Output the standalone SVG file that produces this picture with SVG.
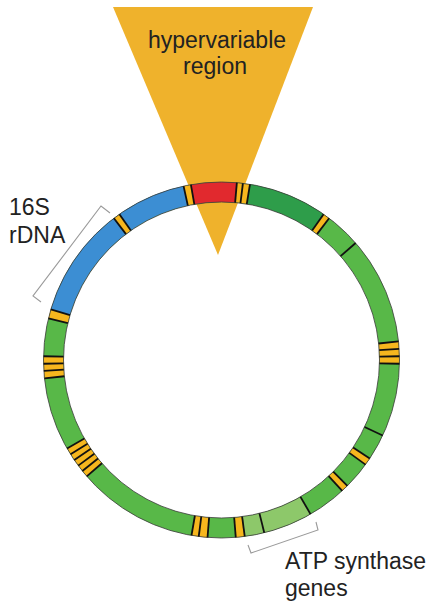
<svg xmlns="http://www.w3.org/2000/svg" width="430" height="601" viewBox="0 0 430 601">
<style>
text{font-family:"Liberation Sans",Arial,sans-serif;font-size:23px;fill:#222}
.seg{fill:none;stroke-width:20}
.tick{stroke:#111;stroke-width:1.8}
.edge{fill:none;stroke:#3a3a3a;stroke-width:0.8}
.br{fill:none;stroke:#9a9a9a;stroke-width:1.1}
</style>
<defs>
<line id="t" class="tick" x1="221.5" y1="202" x2="221.5" y2="182"/>
</defs>
<rect width="430" height="601" fill="#fff"/>
<g id="hypervariable">
<polygon points="113,7 313,7 218,255" fill="#EFB22C"/>
<text x="217" y="48" text-anchor="middle">hypervariable</text>
<text x="215" y="74" text-anchor="middle">region</text>
</g>
<g id="genome" transform="rotate(-90 221.5 360)">
<circle class="seg" cx="221.5" cy="360" r="168" stroke="#58B848"/>
<circle class="seg" cx="221.5" cy="360" r="168" pathLength="360" stroke="#3C8ED3" stroke-dasharray="61.2 298.8" stroke-dashoffset="-286.5"/>
<circle class="seg" cx="221.5" cy="360" r="168" pathLength="360" stroke="#E1292E" stroke-dasharray="14.85 345.15" stroke-dashoffset="-350.1"/>
<circle class="seg" cx="221.5" cy="360" r="168" pathLength="360" stroke="#2E9D4A" stroke-dasharray="25.8 334.2" stroke-dashoffset="-9.2"/>
<circle class="seg" cx="221.5" cy="360" r="168" pathLength="360" stroke="#8DC86A" stroke-dasharray="22.5 337.5" stroke-dashoffset="-150"/>
<g stroke="#F6B61E">
<circle class="seg" cx="221.5" cy="360" r="168" pathLength="360" stroke-dasharray="2.4 357.6" stroke-dashoffset="-347.7"/>
<circle class="seg" cx="221.5" cy="360" r="168" pathLength="360" stroke-dasharray="4.25 355.75" stroke-dashoffset="-4.95"/>
<circle class="seg" cx="221.5" cy="360" r="168" pathLength="360" stroke-dasharray="2.2 357.8" stroke-dashoffset="-35"/>
<circle class="seg" cx="221.5" cy="360" r="168" pathLength="360" stroke-dasharray="7.2 352.8" stroke-dashoffset="-84"/>
<circle class="seg" cx="221.5" cy="360" r="168" pathLength="360" stroke-dasharray="2.4 357.6" stroke-dashoffset="-123.6"/>
<circle class="seg" cx="221.5" cy="360" r="168" pathLength="360" stroke-dasharray="2.3 357.7" stroke-dashoffset="-135"/>
<circle class="seg" cx="221.5" cy="360" r="168" pathLength="360" stroke-dasharray="2.9 357.1" stroke-dashoffset="-172.5"/>
<circle class="seg" cx="221.5" cy="360" r="168" pathLength="360" stroke-dasharray="5.2 354.8" stroke-dashoffset="-184.5"/>
<circle class="seg" cx="221.5" cy="360" r="168" pathLength="360" stroke-dasharray="11 349" stroke-dashoffset="-229.2"/>
<circle class="seg" cx="221.5" cy="360" r="168" pathLength="360" stroke-dasharray="7.1 352.9" stroke-dashoffset="-264.1"/>
<circle class="seg" cx="221.5" cy="360" r="168" pathLength="360" stroke-dasharray="3 357" stroke-dashoffset="-283.5"/>
<circle class="seg" cx="221.5" cy="360" r="168" pathLength="360" stroke-dasharray="2.2 357.8" stroke-dashoffset="-322.8"/>
</g>
<circle class="edge" cx="221.5" cy="360" r="178"/>
<circle class="edge" cx="221.5" cy="360" r="158"/>
</g>
<g id="ticks">
<use href="#t" transform="rotate(347.7 221.5 360)"/>
<use href="#t" transform="rotate(350.1 221.5 360)"/>
<use href="#t" transform="rotate(4.95 221.5 360)"/>
<use href="#t" transform="rotate(6.9 221.5 360)"/>
<use href="#t" transform="rotate(9.2 221.5 360)"/>
<use href="#t" transform="rotate(35 221.5 360)"/>
<use href="#t" transform="rotate(37.2 221.5 360)"/>
<use href="#t" transform="rotate(48.9 221.5 360)"/>
<use href="#t" transform="rotate(84 221.5 360)"/>
<use href="#t" transform="rotate(86.4 221.5 360)"/>
<use href="#t" transform="rotate(88.8 221.5 360)"/>
<use href="#t" transform="rotate(91.2 221.5 360)"/>
<use href="#t" transform="rotate(115.1 221.5 360)"/>
<use href="#t" transform="rotate(123.6 221.5 360)"/>
<use href="#t" transform="rotate(126 221.5 360)"/>
<use href="#t" transform="rotate(135 221.5 360)"/>
<use href="#t" transform="rotate(137.3 221.5 360)"/>
<use href="#t" transform="rotate(150 221.5 360)"/>
<use href="#t" transform="rotate(166.1 221.5 360)"/>
<use href="#t" transform="rotate(172.5 221.5 360)"/>
<use href="#t" transform="rotate(175.4 221.5 360)"/>
<use href="#t" transform="rotate(184.5 221.5 360)"/>
<use href="#t" transform="rotate(187.35 221.5 360)"/>
<use href="#t" transform="rotate(189.7 221.5 360)"/>
<use href="#t" transform="rotate(229.2 221.5 360)"/>
<use href="#t" transform="rotate(231.4 221.5 360)"/>
<use href="#t" transform="rotate(233.6 221.5 360)"/>
<use href="#t" transform="rotate(235.8 221.5 360)"/>
<use href="#t" transform="rotate(238 221.5 360)"/>
<use href="#t" transform="rotate(240.2 221.5 360)"/>
<use href="#t" transform="rotate(264.1 221.5 360)"/>
<use href="#t" transform="rotate(266.5 221.5 360)"/>
<use href="#t" transform="rotate(268.8 221.5 360)"/>
<use href="#t" transform="rotate(271.2 221.5 360)"/>
<use href="#t" transform="rotate(283.5 221.5 360)"/>
<use href="#t" transform="rotate(286.5 221.5 360)"/>
<use href="#t" transform="rotate(322.8 221.5 360)"/>
<use href="#t" transform="rotate(325 221.5 360)"/>
</g>
<g id="label-16S">
<text x="9" y="215">16S</text>
<text x="9" y="243">rDNA</text>
</g>
<g id="label-ATP">
<text x="285" y="569">ATP synthase</text>
<text x="285" y="596">genes</text>
</g>
<g id="connectors">
<path class="br" d="M110,213 L101,206 L33,296 L41,302"/>
<path class="br" d="M248,545 L251,553 L318,530 L316,522"/>
</g>
</svg>
